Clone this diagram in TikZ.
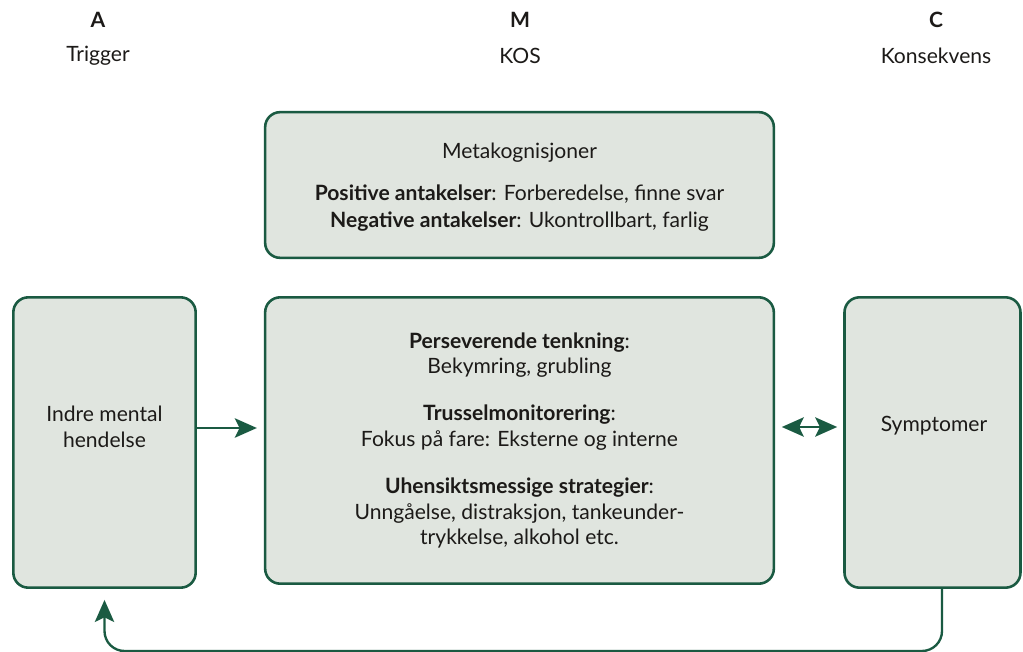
\documentclass[tikz,border=0pt]{standalone}
\usepackage{fontspec}
\setmainfont{Lato}
\usetikzlibrary{positioning}
\usetikzlibrary{arrows.meta}
\usepackage{xcolor}
\definecolor{kosgreen}{HTML}{1A5A42}
\definecolor{kosfill}{HTML}{E0E5DF}
\definecolor{kostext}{HTML}{1C1A18}

\begin{document}
\begin{tikzpicture}[x=0.03cm, y=-0.03cm,
    box/.style={draw=kosgreen, fill=kosfill, line width=2.2pt, rounded corners=0.45cm,
        align=center, text=kostext, inner sep=0pt, font=\fontsize{18}{22}\selectfont},
    boxtext/.style={align=center, text=kostext, inner sep=0pt, font=\fontsize{18}{22}\selectfont},
    head/.style={text=kostext, font=\fontsize{18}{22}\selectfont},
    arr/.style={draw=kosgreen, line width=2pt, -{Stealth[length=0.66cm, width=0.58cm, inset=0.14cm]}},
    dblarr/.style={draw=kosgreen, line width=2pt, {Stealth[length=0.66cm, width=0.58cm, inset=0.14cm]}-{Stealth[length=0.66cm, width=0.58cm, inset=0.14cm]}}]
            \useasboundingbox (0,0) rectangle (1023,652);
            % column heads
            \node[head, font=\fontsize{18}{22}\selectfont\bfseries] (a) at (98, 20) {A};
            \node[head] (trigger) at (98, 56) {Trigger};
            \node[head, font=\fontsize{18}{22}\selectfont\bfseries] (m) at (520, 20) {M};
            \node[head] (koshead) at (520, 56) {KOS};
            \node[head, font=\fontsize{18}{22}\selectfont\bfseries] (c) at (936, 20) {C};
            \node[head] (konsekvens) at (936, 56) {Konsekvens};
            % boxes
            \node[box, minimum width=15.26cm, minimum height=4.37cm] (meta) at (519.5, 185) {};
            \node[boxtext, font=\fontsize{18}{23}\selectfont] (metatext) at (519.5, 187.5)
                {Metakognisjoner\\[13pt]
                 \textbf{Positive antakelser}: Forberedelse, finne svar\\
                 \textbf{Negative antakelser}: Ukontrollbart, farlig};
            \node[box, minimum width=5.47cm, minimum height=8.71cm] (indre) at (104.5, 442.5) {};
            \node[boxtext] (indretext) at (104.5, 427) {Indre mental\\hendelse};
            \node[box, minimum width=15.26cm, minimum height=8.59cm] (kos) at (519.5, 440.5)
                {\textbf{Perseverende tenkning}:\\Bekymring, grubling\\[18pt]
                 \textbf{Trusselmonitorering}:\\Fokus på fare: Eksterne og interne\\[18pt]
                 \textbf{Uhensiktsmessige strategier}:\\Unngåelse, distraksjon, tankeunder-\\trykkelse, alkohol etc.};
            \node[box, minimum width=5.28cm, minimum height=8.71cm] (symptomer) at (932.5, 442.5) {};
            \node[boxtext] (symptext) at (934, 426) {Symptomer};
            % connectors
            \coordinate (midline) at (0, 428);
            \coordinate (loop) at (942, 651);
            \draw[arr, shorten >=0.21cm] (indre.east |- midline) -- (kos.west |- midline);
            \draw[dblarr, shorten <=0.2cm, shorten >=0.18cm] (kos.east |- 0,427) -- (symptomer.west |- 0,427);
            \draw[arr, rounded corners=0.6cm, shorten >=0.33cm] (symptomer.south -| loop) |- (loop -| indre.south) -- (indre.south);
\end{tikzpicture}
\end{document}
